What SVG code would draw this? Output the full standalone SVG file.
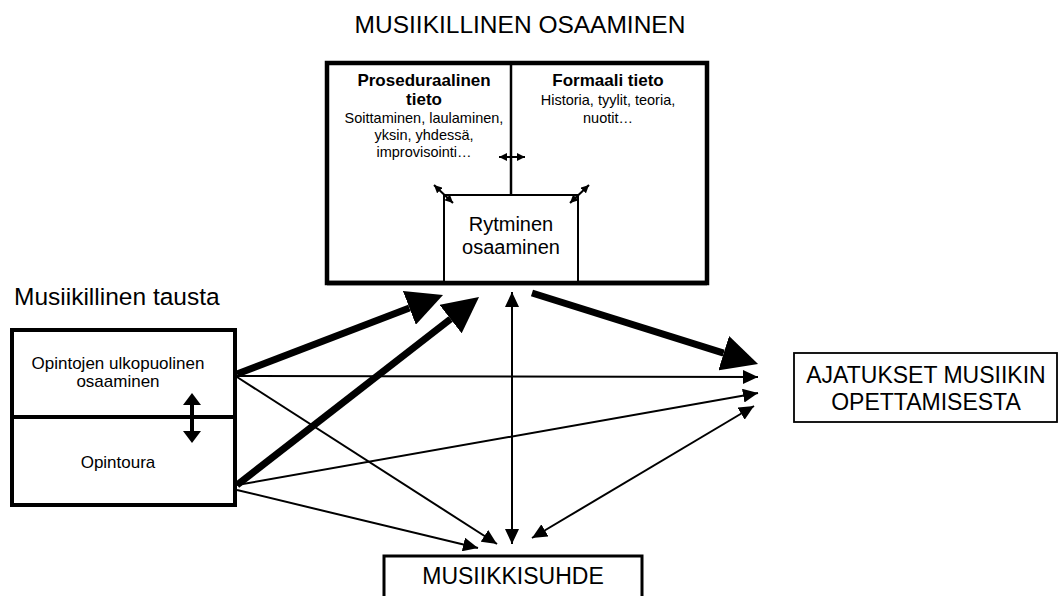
<svg xmlns="http://www.w3.org/2000/svg" width="1062" height="596" viewBox="0 0 1062 596">
<style>
text{font-family:"Liberation Sans",Arial,Helvetica,sans-serif;fill:#000}
.title{font-size:24.5px}
.b{font-weight:bold;font-size:17px}
.r{font-size:14.5px}
.m{font-size:17px}
.big{font-size:23px}
.ryt{font-size:20px}
.box{fill:#fff;stroke:#000}
.thick{stroke:#000;stroke-width:7;fill:none;marker-end:url(#hb)}
.thin{stroke:#000;stroke-width:2;fill:none;marker-end:url(#ht)}
.bi{marker-start:url(#ht)}
.small{stroke:#000;stroke-width:2;fill:none;marker-start:url(#hs);marker-end:url(#hs)}
</style>
<defs>
<marker id="hb" markerUnits="userSpaceOnUse" viewBox="0 -18 37 36" refX="0" refY="0" markerWidth="37" markerHeight="36" orient="auto"><path d="M0,-18 L36,0 L0,18 z" fill="#000"/></marker>
<marker id="ht" markerUnits="userSpaceOnUse" viewBox="0 -7 15 14" refX="15" refY="0" markerWidth="15" markerHeight="14" orient="auto-start-reverse"><path d="M0,-7 L15,0 L0,7 z" fill="#000"/></marker>
<marker id="hs" markerUnits="userSpaceOnUse" viewBox="0 -4 8 8" refX="8" refY="0" markerWidth="8" markerHeight="8" orient="auto-start-reverse"><path d="M0,-4 L8,0 L0,4 z" fill="#000"/></marker>
<marker id="hm" markerUnits="userSpaceOnUse" viewBox="0 -9 12 18" refX="0" refY="0" markerWidth="12" markerHeight="18" orient="auto-start-reverse"><path d="M0,-9 L12,0 L0,9 z" fill="#000"/></marker>
</defs>

<text class="title" x="520" y="33" text-anchor="middle">MUSIIKILLINEN OSAAMINEN</text>

<g id="musiikillinen-osaaminen">
<rect class="box" x="327" y="63" width="380" height="220" stroke-width="4.5"/>
<line x1="511" y1="63" x2="511" y2="195" stroke="#000" stroke-width="2.5"/>
<g id="proseduraalinen">
<text class="b" x="424" y="86" text-anchor="middle">Proseduraalinen</text>
<text class="b" x="424" y="105" text-anchor="middle">tieto</text>
<text class="r" x="424" y="123" text-anchor="middle">Soittaminen, laulaminen,</text>
<text class="r" x="424" y="140" text-anchor="middle">yksin, yhdessä,</text>
<text class="r" x="424" y="157" text-anchor="middle">improvisointi…</text>
</g>
<g id="formaali">
<text class="b" x="608" y="86" text-anchor="middle">Formaali tieto</text>
<text class="r" x="608" y="105" text-anchor="middle">Historia, tyylit, teoria,</text>
<text class="r" x="608" y="123" text-anchor="middle">nuotit…</text>
</g>
<g id="rytminen">
<rect class="box" x="444" y="195" width="134" height="88" stroke-width="2"/>
<text class="ryt" x="511" y="231" text-anchor="middle">Rytminen</text>
<text class="ryt" x="511" y="254" text-anchor="middle">osaaminen</text>
</g>
<line x1="327" y1="283" x2="707" y2="283" stroke="#000" stroke-width="4.5"/>
<line class="small" x1="499" y1="157" x2="525" y2="157"/>
<line class="small" x1="434" y1="185" x2="453" y2="203"/>
<line class="small" x1="589" y1="185" x2="570" y2="203"/>
</g>

<text class="title" x="14" y="305">Musiikillinen tausta</text>
<g id="musiikillinen-tausta">
<rect class="box" x="12" y="330" width="223" height="175" stroke-width="4"/>
<line x1="12" y1="417" x2="235" y2="417" stroke="#000" stroke-width="4"/>
<text class="m" x="118" y="369" text-anchor="middle">Opintojen ulkopuolinen</text>
<text class="m" x="118" y="387" text-anchor="middle">osaaminen</text>
<text class="m" x="118" y="468" text-anchor="middle">Opintoura</text>
<line x1="192" y1="405" x2="192" y2="431" stroke="#000" stroke-width="4" marker-start="url(#hm)" marker-end="url(#hm)"/>
</g>

<g id="ajatukset">
<rect class="box" x="794" y="353" width="263" height="69" stroke-width="1.8"/>
<text class="big" x="926" y="383" text-anchor="middle">AJATUKSET MUSIIKIN</text>
<text class="big" x="926" y="410" text-anchor="middle">OPETTAMISESTA</text>
</g>

<g id="musiikkisuhde">
<rect class="box" x="384" y="556" width="258" height="60" stroke-width="3"/>
<text class="big" x="513" y="584" text-anchor="middle">MUSIIKKISUHDE</text>
</g>

<g id="connectors">
<path class="thick" d="M237,374 L409.4,307.9"/>
<path class="thick" d="M237,485 L450.6,319.1"/>
<path class="thick" d="M532,293 L723.7,353.2"/>
<path class="thin" d="M237,376 L758,377"/>
<path class="thin" d="M237,485 L758,393"/>
<path class="thin bi" d="M532,538 L754,406"/>
<path class="thin bi" d="M512,292 L512,544"/>
<path class="thin" d="M237,377 L497,544"/>
<path class="thin" d="M237,490 L478,548"/>
</g>
</svg>
